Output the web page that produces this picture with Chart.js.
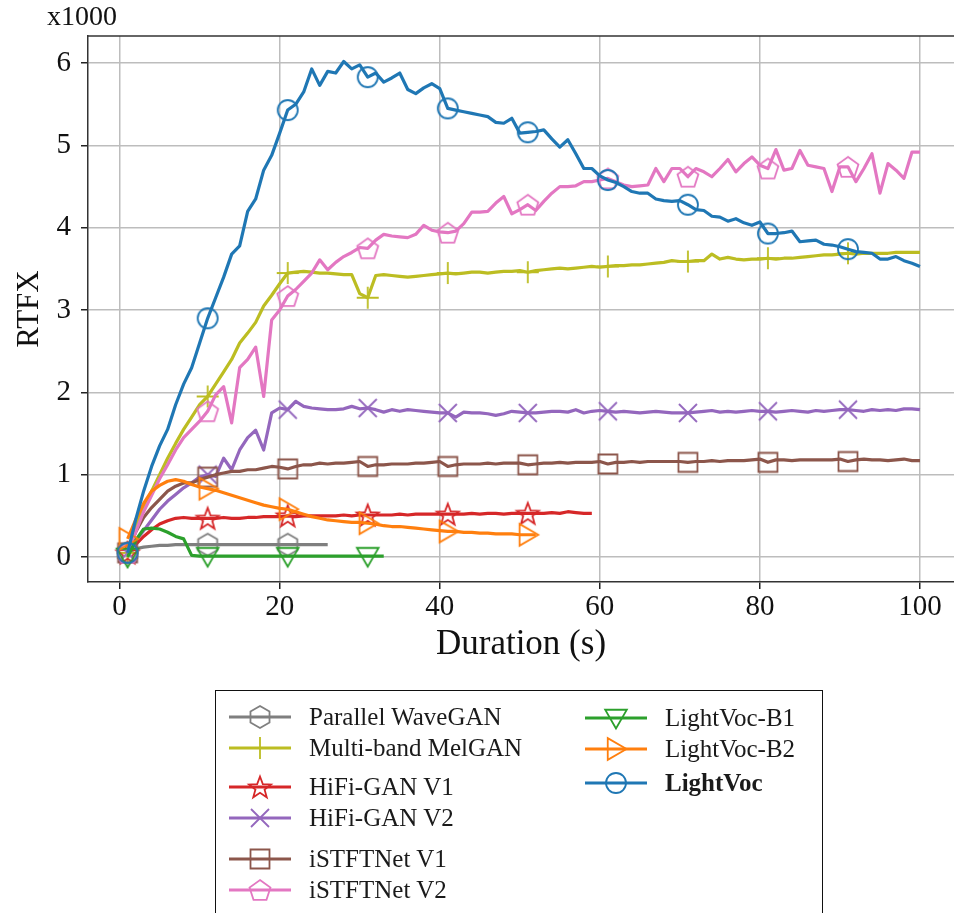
<!DOCTYPE html>
<html>
<head>
<meta charset="utf-8">
<script src="https://cdn.jsdelivr.net/npm/chart.js@4.4.0/dist/chart.umd.min.js"></script>
<style>
  html, body { margin: 0; padding: 0; background: #fff; overflow: hidden; }
  #wrap { position: relative; width: 954px; height: 913px; overflow: hidden; }
  #rtfx { display: block; }
  #legend {
    position: absolute; left: 215px; top: 690px; width: 608px; height: 260px;
    border: 1.5px solid #111; box-sizing: border-box;
    font-family: "Liberation Serif", serif; font-size: 25px; color: #1a1a1a;
  }
  .item { position: absolute; height: 30px; display: flex; align-items: center; white-space: nowrap; }
  .item span { margin-left: 18px; }
</style>
</head>
<body>
<div id="wrap">
  <canvas id="rtfx" width="954" height="913"></canvas>
  <div id="legend"></div>
</div>
<script>
// durations (s) and RTFX values (x1000)
const durations = [
  1,2,3,4,5,6,7,8,9,10,11,12,13,14,15,16,17,18,19,20,
  21,22,23,24,25,26,27,28,29,30,31,32,33,34,35,36,37,38,39,40,
  41,42,43,44,45,46,47,48,49,50,51,52,53,54,55,56,57,58,59,60,
  61,62,63,64,65,66,67,68,69,70,71,72,73,74,75,76,77,78,79,80,
  81,82,83,84,85,86,87,88,89,90,91,92,93,94,95,96,97,98,99,100
];
const xTicks = [0, 20, 40, 60, 80, 100];
const yTicks = [0, 1, 2, 3, 4, 5, 6];

const parallelWaveGAN = [
  0.05,0.10,0.12,0.13,0.14,0.14,0.15,0.15,0.15,0.15,
  0.15,0.15,0.15,0.15,0.15,0.15,0.15,0.15,0.15,0.15,
  0.15,0.15,0.15,0.15,0.15,0.15
];
const multiBandMelGAN = [
  0.05,0.35,0.60,0.80,1.00,1.20,1.38,1.55,1.70,1.85,
  1.95,2.10,2.25,2.40,2.60,2.72,2.85,3.05,3.18,3.32,
  3.45,3.46,3.47,3.46,3.45,3.45,3.44,3.43,3.43,3.20,
  3.15,3.42,3.43,3.42,3.41,3.40,3.41,3.42,3.43,3.44,
  3.45,3.44,3.45,3.46,3.46,3.45,3.46,3.47,3.47,3.48,
  3.46,3.48,3.49,3.50,3.51,3.50,3.51,3.52,3.53,3.52,
  3.53,3.54,3.54,3.55,3.55,3.56,3.57,3.58,3.60,3.59,
  3.59,3.60,3.60,3.68,3.62,3.64,3.62,3.61,3.62,3.62,
  3.63,3.62,3.63,3.63,3.64,3.65,3.66,3.67,3.67,3.68,
  3.69,3.68,3.69,3.69,3.69,3.69,3.70,3.70,3.70,3.70
];
const hifiganV1 = [
  0.05,0.15,0.25,0.33,0.40,0.44,0.47,0.48,0.47,0.47,
  0.47,0.47,0.48,0.47,0.47,0.48,0.48,0.49,0.49,0.49,
  0.50,0.49,0.50,0.50,0.50,0.50,0.50,0.51,0.50,0.51,
  0.51,0.51,0.51,0.51,0.52,0.51,0.52,0.52,0.52,0.52,
  0.52,0.52,0.52,0.53,0.52,0.53,0.53,0.52,0.53,0.53,
  0.53,0.53,0.53,0.54,0.53,0.55,0.54,0.53,0.53
];
const hifiganV2 = [
  0.05,0.20,0.32,0.45,0.58,0.68,0.76,0.84,0.90,0.97,
  1.00,0.98,1.20,1.06,1.30,1.45,1.54,1.30,1.75,1.81,
  1.79,1.89,1.83,1.81,1.80,1.79,1.79,1.80,1.83,1.80,
  1.81,1.79,1.76,1.79,1.77,1.79,1.78,1.77,1.76,1.75,
  1.75,1.70,1.76,1.75,1.75,1.74,1.72,1.74,1.77,1.76,
  1.75,1.75,1.76,1.77,1.77,1.76,1.79,1.75,1.77,1.78,
  1.77,1.76,1.77,1.76,1.75,1.76,1.77,1.76,1.75,1.75,
  1.75,1.76,1.77,1.78,1.76,1.77,1.76,1.77,1.78,1.77,
  1.77,1.76,1.77,1.78,1.77,1.76,1.78,1.77,1.78,1.79,
  1.79,1.78,1.77,1.79,1.78,1.79,1.78,1.80,1.80,1.79
];
const istftnetV1 = [
  0.05,0.30,0.48,0.60,0.70,0.80,0.86,0.90,0.90,0.94,
  0.97,1.00,1.02,1.04,1.04,1.06,1.06,1.08,1.10,1.09,
  1.07,1.10,1.12,1.12,1.14,1.13,1.14,1.14,1.15,1.16,
  1.10,1.12,1.12,1.13,1.13,1.13,1.14,1.14,1.15,1.16,
  1.10,1.12,1.13,1.13,1.13,1.14,1.13,1.14,1.14,1.14,
  1.12,1.13,1.14,1.14,1.15,1.14,1.15,1.15,1.15,1.16,
  1.13,1.15,1.15,1.16,1.15,1.16,1.16,1.16,1.16,1.16,
  1.15,1.16,1.16,1.17,1.16,1.17,1.17,1.17,1.18,1.19,
  1.15,1.18,1.18,1.17,1.18,1.18,1.18,1.18,1.18,1.19,
  1.16,1.18,1.19,1.18,1.18,1.17,1.18,1.19,1.17,1.17
];
const istftnetV2 = [
  0.05,0.30,0.55,0.75,0.95,1.12,1.30,1.45,1.55,1.65,
  1.77,1.97,2.07,1.63,2.30,2.40,2.55,1.95,2.88,3.00,
  3.17,3.25,3.35,3.45,3.61,3.49,3.58,3.65,3.70,3.76,
  3.75,3.85,3.92,3.90,3.89,3.88,3.92,4.03,3.97,3.95,
  3.94,3.96,4.05,4.19,4.19,4.20,4.30,4.38,4.17,4.22,
  4.28,4.21,4.32,4.42,4.50,4.50,4.51,4.56,4.56,4.58,
  4.60,4.56,4.52,4.50,4.51,4.52,4.72,4.56,4.72,4.72,
  4.62,4.72,4.68,4.62,4.72,4.83,4.68,4.78,4.86,4.76,
  4.72,4.95,4.70,4.72,4.94,4.76,4.74,4.72,4.44,4.74,
  4.74,4.56,4.72,4.90,4.42,4.78,4.70,4.60,4.92,4.92
];
const lightVocB1 = [
  0.00,0.20,0.34,0.35,0.34,0.30,0.25,0.22,0.02,0.01,
  0.01,0.01,0.01,0.01,0.01,0.01,0.01,0.01,0.01,0.01,
  0.01,0.01,0.01,0.01,0.01,0.01,0.01,0.01,0.01,0.01,
  0.01,0.01,0.01
];
const lightVocB2 = [
  0.22,0.45,0.65,0.80,0.87,0.92,0.94,0.92,0.88,0.85,
  0.83,0.81,0.78,0.75,0.72,0.69,0.66,0.63,0.61,0.59,
  0.58,0.55,0.52,0.49,0.47,0.45,0.44,0.43,0.42,0.42,
  0.41,0.40,0.38,0.37,0.37,0.36,0.35,0.34,0.33,0.32,
  0.31,0.31,0.30,0.30,0.29,0.29,0.28,0.28,0.28,0.27,
  0.27,0.27
];
const lightVoc = [
  0.05,0.45,0.80,1.10,1.35,1.55,1.85,2.10,2.30,2.60,
  2.90,3.15,3.40,3.68,3.78,4.20,4.35,4.70,4.88,5.15,
  5.43,5.50,5.65,5.93,5.73,5.90,5.88,6.02,5.93,5.98,
  5.83,5.88,5.77,5.82,5.88,5.68,5.63,5.70,5.75,5.69,
  5.45,5.43,5.41,5.39,5.37,5.35,5.28,5.27,5.33,5.15,
  5.16,5.17,5.19,5.08,4.98,5.07,4.90,4.72,4.72,4.63,
  4.58,4.55,4.50,4.44,4.42,4.42,4.35,4.33,4.32,4.33,
  4.28,4.22,4.21,4.14,4.13,4.08,4.11,4.06,4.03,4.07,
  3.93,3.93,3.94,3.96,3.83,3.84,3.85,3.80,3.79,3.77,
  3.74,3.71,3.70,3.69,3.62,3.62,3.65,3.60,3.57,3.53
];

const series = [
  { label: 'Parallel WaveGAN', values: parallelWaveGAN, color: '#7f7f7f', marker: 'hexagon' },
  { label: 'Multi-band MelGAN', values: multiBandMelGAN, color: '#bcbd22', marker: 'plus' },
  { label: 'HiFi-GAN V1', values: hifiganV1, color: '#d62728', marker: 'star' },
  { label: 'HiFi-GAN V2', values: hifiganV2, color: '#9467bd', marker: 'x' },
  { label: 'iSTFTNet V1', values: istftnetV1, color: '#8c564b', marker: 'square' },
  { label: 'iSTFTNet V2', values: istftnetV2, color: '#e377c2', marker: 'pentagon' },
  { label: 'LightVoc-B1', values: lightVocB1, color: '#2ca02c', marker: 'triDown' },
  { label: 'LightVoc-B2', values: lightVocB2, color: '#ff7f0e', marker: 'triRight' },
  { label: 'LightVoc', values: lightVoc, color: '#1f77b4', marker: 'circle', bold: true }
];

// legend slot positions (page coords: row centre y, handle start x)
const legendSlots = [
  [716, 228], [747, 228], [786, 228], [817, 228], [858, 228], [889, 228],
  [717, 584], [748, 584], [782, 584]
];

function polygon(g, cx, cy, r, n, rot) {
  for (let i = 0; i < n; i++) {
    const a = rot + i * 2 * Math.PI / n;
    const px = cx + r * Math.cos(a), py = cy + r * Math.sin(a);
    if (i === 0) g.moveTo(px, py); else g.lineTo(px, py);
  }
  g.closePath();
}

function drawShape(g, shape, cx, cy, color) {
  g.save();
  g.strokeStyle = color;
  g.lineWidth = 1.8;
  g.beginPath();
  switch (shape) {
    case 'circle': g.arc(cx, cy, 10, 0, 2 * Math.PI); break;
    case 'square': g.rect(cx - 9.5, cy - 9.5, 19, 19); break;
    case 'plus':
      g.moveTo(cx - 11, cy); g.lineTo(cx + 11, cy);
      g.moveTo(cx, cy - 11); g.lineTo(cx, cy + 11); break;
    case 'x':
      g.moveTo(cx - 9, cy - 9); g.lineTo(cx + 9, cy + 9);
      g.moveTo(cx - 9, cy + 9); g.lineTo(cx + 9, cy - 9); break;
    case 'hexagon': polygon(g, cx, cy, 11, 6, -Math.PI / 2); break;
    case 'pentagon': polygon(g, cx, cy + 1, 11, 5, -Math.PI / 2); break;
    case 'triDown': polygon(g, cx, cy - 2, 12.5, 3, Math.PI / 2); break;
    case 'triRight': polygon(g, cx - 2, cy, 12.5, 3, 0); break;
    case 'star':
      for (let i = 0; i < 10; i++) {
        const r = i % 2 === 0 ? 11.5 : 4.8;
        const a = -Math.PI / 2 + i * Math.PI / 5;
        const px = cx + r * Math.cos(a), py = cy + 1 + r * Math.sin(a);
        if (i === 0) g.moveTo(px, py); else g.lineTo(px, py);
      }
      g.closePath(); break;
  }
  g.stroke();
  g.restore();
}

function markerCanvas(shape, color) {
  const c = document.createElement('canvas');
  c.width = 30; c.height = 30;
  drawShape(c.getContext('2d'), shape, 15, 15, color);
  return c;
}

Chart.defaults.font.family = '"Liberation Serif", "Times New Roman", serif';
Chart.defaults.color = '#111';

const datasets = series.map((s, k) => ({
  label: s.label,
  data: s.values.map((v, i) => ({ x: durations[i], y: v })),
  borderColor: s.color,
  backgroundColor: s.color,
  borderWidth: 3.2,
  borderJoinStyle: 'round',
  tension: 0,
  pointStyle: markerCanvas(s.marker, s.color),
  pointRadius: ctx => (ctx.dataIndex % 10 === 0 ? 10 : 0),
  pointHoverRadius: 0,
  order: series.length - k
}));

const framePlugin = {
  id: 'frame',
  afterDraw(chart) {
    const { ctx, chartArea } = chart;
    ctx.save();
    ctx.strokeStyle = '#333';
    ctx.lineWidth = 1.5;
    ctx.beginPath();
    ctx.moveTo(chartArea.left, chartArea.top);
    ctx.lineTo(chartArea.right, chartArea.top);
    ctx.stroke();
    ctx.fillStyle = '#111';
    ctx.font = '28px "Liberation Serif", serif';
    ctx.textAlign = 'center';
    ctx.textBaseline = 'middle';
    ctx.fillText('x1000', 82, 18);
    ctx.restore();
  }
};

const chart = new Chart(document.getElementById('rtfx'), {
  type: 'line',
  data: { datasets: datasets },
  plugins: [framePlugin],
  options: {
    responsive: false,
    animation: false,
    devicePixelRatio: 1,
    events: [],
    layout: { autoPadding: false, padding: { top: 36, right: 0, bottom: 247, left: 0 } },
    plugins: { legend: { display: false }, tooltip: { enabled: false } },
    scales: {
      x: {
        type: 'linear',
        min: -3.95,
        max: 104.25,
        afterBuildTicks: s => { s.ticks = xTicks.map(v => ({ value: v })); },
        afterFit: s => { s.height = 84; s.paddingLeft = 0; s.paddingRight = 0; },
        grid: { color: '#bdbdbd', lineWidth: 1.5, tickColor: '#222', tickLength: 7, tickWidth: 1.5 },
        border: { color: '#333', width: 1.5 },
        ticks: { font: { size: 29 }, color: '#111', padding: 1, maxRotation: 0 },
        title: { display: true, text: 'Duration (s)', font: { size: 35 }, color: '#111', padding: 0 }
      },
      y: {
        type: 'linear',
        min: -0.304,
        max: 6.33,
        afterBuildTicks: s => { s.ticks = yTicks.map(v => ({ value: v })); },
        afterFit: s => { s.width = 88; s.paddingTop = 0; s.paddingBottom = 0; },
        grid: { color: '#bdbdbd', lineWidth: 1.5, tickColor: '#222', tickLength: 7, tickWidth: 1.5 },
        border: { color: '#333', width: 1.5 },
        ticks: { font: { size: 29 }, color: '#111', padding: 10 },
        title: { display: true, text: 'RTFX', font: { size: 31 }, color: '#111', padding: { top: 11, bottom: 0 } }
      }
    }
  }
});

// legend built from the chart's datasets
const legendEl = document.getElementById('legend');
chart.data.datasets.forEach((ds, i) => {
  const [cy, hx] = legendSlots[i];
  const item = document.createElement('div');
  item.className = 'item';
  item.style.left = (hx - 215) + 'px';
  item.style.top = (cy - 690 - 15) + 'px';
  const h = document.createElement('canvas');
  h.width = 62; h.height = 30;
  const g = h.getContext('2d');
  g.strokeStyle = ds.borderColor;
  g.lineWidth = 3.2;
  g.beginPath(); g.moveTo(0, 15); g.lineTo(62, 15); g.stroke();
  drawShape(g, series[i].marker, 31, 15, ds.borderColor);
  const t = document.createElement('span');
  t.textContent = ds.label;
  if (series[i].bold) t.style.fontWeight = 'bold';
  item.appendChild(h);
  item.appendChild(t);
  legendEl.appendChild(item);
});
</script>
</body>
</html>
